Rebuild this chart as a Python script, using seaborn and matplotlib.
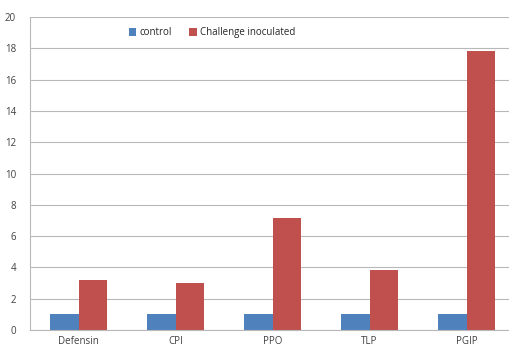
import pandas as pd
import matplotlib.pyplot as plt
import seaborn as sns

# values
genes = ['Defensin', 'CPI', 'PPO', 'TLP', 'PGIP']
control = [1, 1, 1, 1, 1]
challenge = [3.2, 3.0, 7.15, 3.83, 17.8]
groups = ['control', 'Challenge inoculated']
colors = ['#4F81BD', '#C0504D']

df = pd.DataFrame({
    'gene': genes * 2,
    'value': control + challenge,
    'group': [groups[0]] * len(genes) + [groups[1]] * len(genes),
})

sns.set_style('white')
plt.rcParams['font.family'] = ['Open Sans', 'DejaVu Sans']

fig = plt.figure(figsize=(5.09, 3.46), dpi=100)
ax = fig.add_axes([0.059, 0.046, 0.953, 0.905])

sns.barplot(data=df, x='gene', y='value', hue='group', palette=colors,
            width=0.58, saturation=1, linewidth=0, edgecolor='none', ax=ax)

ax.set_ylim(0, 20)
ax.set_yticks(range(0, 21, 2))
ax.set_xlim(-0.5, len(genes) - 0.5)
ax.yaxis.grid(True, color='#b8b8b8', linewidth=0.8)
ax.set_axisbelow(True)
ax.set_xlabel('')
ax.set_ylabel('')

for s in ['top', 'right']:
    ax.spines[s].set_visible(False)
for s in ['left', 'bottom']:
    ax.spines[s].set_color('#b8b8b8')
    ax.spines[s].set_linewidth(0.8)

ax.tick_params(axis='y', labelsize=7, colors='#404040', length=4,
               color='#b8b8b8', pad=6)
ax.set_xticks(range(len(genes)))
ax.set_xticklabels(genes)
ax.tick_params(axis='x', labelsize=7, colors='#404040', length=0, pad=4)
# category boundary ticks
ax.set_xticks([i - 0.5 for i in range(len(genes) + 1)], minor=True)
ax.tick_params(axis='x', which='minor', length=4, color='#b8b8b8')

ax.legend(loc='upper left', bbox_to_anchor=(0.185, 0.995), ncol=2, frameon=False,
          fontsize=7, handlelength=0.8, handleheight=0.8, columnspacing=1.8,
          handletextpad=0.3)

fig.savefig('out.png', dpi=100)
